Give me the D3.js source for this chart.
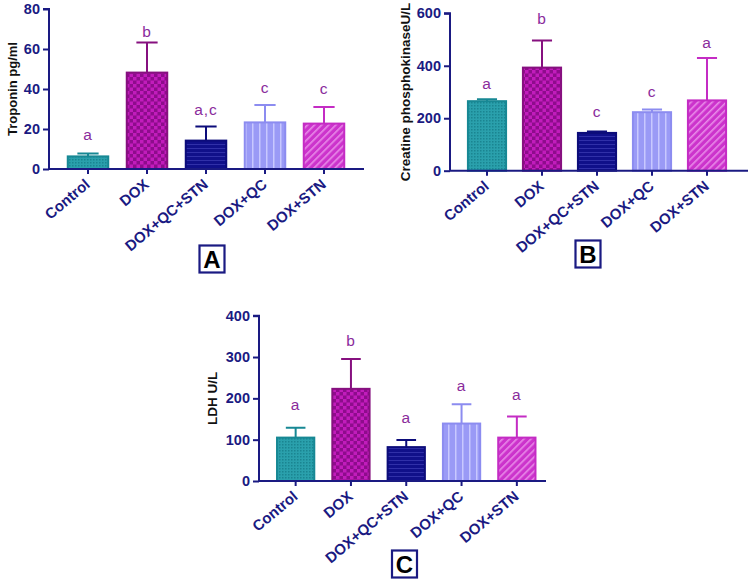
<!DOCTYPE html>
<html>
<head>
<meta charset="utf-8">
<script src="https://cdn.jsdelivr.net/npm/d3@7"></script>
<style>
	html, body { margin: 0; padding: 0; background: #fff; }
	svg { display: block; font-family: "Liberation Sans", Arial, sans-serif; }
</style>
</head>
<body>
<svg id="chart" width="749" height="579"></svg>
<script>
// groups (same for all three panels)
const groups = ['Control', 'DOX', 'DOX+QC+STN', 'DOX+QC', 'DOX+STN'];

// panel A: troponin
const troponinMean = [6.3, 48.2, 14.2, 23.3, 22.7];
const troponinSD = [1.4, 15.0, 7.0, 8.7, 8.3];
const troponinLetters = ['a', 'b', 'a,c', 'c', 'c'];
const troponinLetterY = [17, 68.5, 29.5, 40.8, 40.3];
const troponinTicks = [0, 20, 40, 60, 80];

// panel B: creatine phosphokinase
const ckMean = [265, 393, 144, 223, 268];
const ckSD = [7, 103, 5, 10, 162];
const ckLetters = ['a', 'b', 'c', 'c', 'a'];
const ckLetterY = [333, 578, 225, 301, 490];
const ckTicks = [0, 200, 400, 600];

// panel C: LDH
const ldhMean = [105, 223, 82, 139, 105];
const ldhSD = [24, 72, 17, 47, 51];
const ldhLetters = ['a', 'b', 'a', 'a', 'a'];
const ldhLetterY = [184, 339, 153, 230, 208];
const ldhTicks = [0, 100, 200, 300, 400];

const AXIS = '#1a1a82';
const LETTER = '#8a2c9c';
const fills = ['url(#p-teal)', 'url(#p-check)', 'url(#p-navy)', 'url(#p-lav)', 'url(#p-pink)'];
const strokes = ['#178894', '#86107f', '#0c0c7a', '#8c8cf0', '#c42cc4'];

const svg = d3.select('#chart');
const defs = svg.append('defs');

// fill patterns
function pattern(id, w, h, base) {
	const p = defs.append('pattern').attr('id', id)
		.attr('patternUnits', 'userSpaceOnUse').attr('width', w).attr('height', h);
	p.append('rect').attr('width', w).attr('height', h).attr('fill', base);
	return p;
}
let p = pattern('p-teal', 3, 3, '#2aa0ac');
p.append('rect').attr('width', 1.5).attr('height', 1.5).attr('fill', '#1a8591');
p = pattern('p-check', 7, 7, '#8e0c8c');
p.append('rect').attr('width', 3.5).attr('height', 3.5).attr('fill', '#c21cbc');
p.append('rect').attr('x', 3.5).attr('y', 3.5).attr('width', 3.5).attr('height', 3.5).attr('fill', '#c21cbc');
p = pattern('p-navy', 4, 4, '#10108a');
p.append('rect').attr('width', 4).attr('height', 1).attr('fill', '#3030a8');
p = pattern('p-lav', 7, 7, '#9a9af6');
p.append('rect').attr('width', 1.5).attr('height', 7).attr('fill', '#c8c8ff');
p = pattern('p-pink', 5, 5, '#cc33cc').attr('patternTransform', 'rotate(45)');
p.append('rect').attr('width', 1.6).attr('height', 5).attr('fill', '#e88ae8');

function drawPanel(cfg) {
	const g = svg.append('g');
	const x = d3.scaleBand().domain(groups).range(cfg.xRange)
		.paddingInner(cfg.pad).paddingOuter(cfg.pad / 2);
	const y = d3.scaleLinear().domain([0, cfg.ticks[cfg.ticks.length - 1]]).range(cfg.yRange);
	const rows = groups.map((k, i) => ({
		k, mean: cfg.mean[i], sd: cfg.sd[i], letter: cfg.letters[i], ly: cfg.letterY[i], i
	}));

	// bars
	g.selectAll('.bar').data(rows).join('rect')
		.attr('class', 'bar')
		.attr('x', (d) => x(d.k) + 1)
		.attr('width', x.bandwidth() - 2)
		.attr('y', (d) => y(d.mean))
		.attr('height', (d) => y(0) - y(d.mean))
		.attr('fill', (d) => fills[d.i])
		.attr('stroke', (d) => strokes[d.i])
		.attr('stroke-width', 2);

	// error bars (upper only)
	const cx = (d) => x(d.k) + x.bandwidth() / 2;
	const capW = x.bandwidth() / 4;
	g.selectAll('.err').data(rows).join('path')
		.attr('class', 'err')
		.attr('d', (d) => `M${cx(d)},${y(d.mean)}V${y(d.mean + d.sd)}M${cx(d) - capW},${y(d.mean + d.sd)}H${cx(d) + capW}`)
		.attr('fill', 'none')
		.attr('stroke', (d) => strokes[d.i])
		.attr('stroke-width', 2);

	// significance letters
	g.selectAll('.sig').data(rows).join('text')
		.attr('class', 'sig')
		.attr('x', cx)
		.attr('y', (d) => y(d.ly))
		.attr('dy', '0.35em')
		.attr('text-anchor', 'middle')
		.attr('fill', LETTER)
		.style('font-size', '15.5px')
		.style('letter-spacing', '1px')
		.text((d) => d.letter);

	// y axis
	const ya = g.append('g').attr('transform', `translate(${cfg.xAxis},0)`)
		.call(d3.axisLeft(y).tickValues(cfg.ticks).tickSize(6).tickPadding(3));
	ya.select('.domain').attr('stroke', AXIS).attr('stroke-width', 2)
		.attr('d', `M-6,${cfg.yRange[1]}H0V${cfg.yRange[0]}`);
	ya.selectAll('.tick line').attr('stroke', AXIS).attr('stroke-width', 2);
	ya.selectAll('.tick text').attr('fill', AXIS)
		.style('font-size', '14.5px').style('font-weight', 'bold');

	// x axis
	const xa = g.append('g').attr('transform', `translate(0,${y(0)})`)
		.call(d3.axisBottom(x).tickSize(5).tickSizeOuter(0));
	xa.select('.domain').attr('stroke', AXIS).attr('stroke-width', 2)
		.attr('d', `M${cfg.xAxis},0H${cfg.xEnd}`);
	xa.selectAll('.tick line').attr('stroke', AXIS).attr('stroke-width', 2);
	xa.selectAll('.tick text').attr('fill', AXIS)
		.style('font-size', '15px').style('font-weight', 'bold')
		.attr('text-anchor', 'end')
		.attr('dy', 0).attr('y', 0)
		.attr('transform', 'translate(3,17) rotate(-40)');

	// y title
	g.append('text')
		.attr('transform', `translate(${cfg.titleX},${(cfg.yRange[0] + cfg.yRange[1]) / 2}) rotate(-90)`)
		.attr('text-anchor', 'middle')
		.attr('fill', '#111')
		.style('font-size', cfg.titleSize)
		.style('font-weight', 'bold')
		.text(cfg.title);

	// panel tag
	const tag = g.append('g').attr('transform', `translate(${cfg.tag[0]},${cfg.tag[1]})`);
	tag.append('rect').attr('x', -12.5).attr('y', -13.5).attr('width', 25).attr('height', 27)
		.attr('fill', '#fff').attr('stroke', AXIS).attr('stroke-width', 2.2);
	tag.append('text').attr('text-anchor', 'middle').attr('dy', '0.36em')
		.attr('fill', '#000').style('font-size', '24px').style('font-weight', 'bold')
		.text(cfg.tagText);
}

drawPanel({
	mean: troponinMean, sd: troponinSD, letters: troponinLetters, letterY: troponinLetterY,
	ticks: troponinTicks, xRange: [58.5, 353.5], pad: 0.28, yRange: [169, 9],
	xAxis: 49, xEnd: 364, title: 'Troponin pg/ml', titleX: 17, titleSize: '13px',
	tag: [212, 259], tagText: 'A'
});
drawPanel({
	mean: ckMean, sd: ckSD, letters: ckLetters, letterY: ckLetterY,
	ticks: ckTicks, xRange: [459.5, 734.5], pad: 0.27, yRange: [170.7, 13.3],
	xAxis: 450, xEnd: 748, title: 'Creatine phosphokinaseU/L', titleX: 410, titleSize: '13.5px',
	tag: [588, 254], tagText: 'B'
});
drawPanel({
	mean: ldhMean, sd: ldhSD, letters: ldhLetters, letterY: ldhLetterY,
	ticks: ldhTicks, xRange: [268, 544.5], pad: 0.29, yRange: [481, 315.7],
	xAxis: 259, xEnd: 546, title: 'LDH U/L', titleX: 217, titleSize: '13.5px',
	tag: [404.5, 564], tagText: 'C'
});
</script>
</body>
</html>
